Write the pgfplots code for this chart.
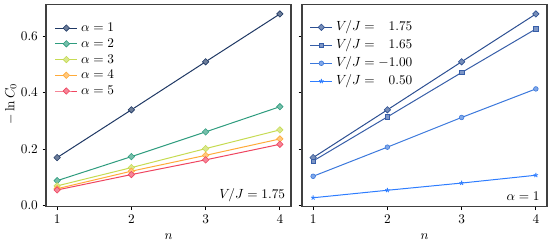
\documentclass[border=0pt]{standalone}
\usepackage{pgfplots}
\pgfplotsset{compat=1.18}
\definecolor{axgray}{HTML}{404040}
\definecolor{ca}{HTML}{1F3864}
\definecolor{cb}{HTML}{2E9C7E}
\definecolor{cc}{HTML}{C6DB52}
\definecolor{cd}{HTML}{FFAB3A}
\definecolor{ce}{HTML}{EF4560}
\definecolor{ra}{HTML}{2C4F92}
\definecolor{rb}{HTML}{375EA8}
\definecolor{rc}{HTML}{3B78DC}
\definecolor{rd}{HTML}{2E7DFF}
\begin{document}
\begin{tikzpicture}[x=0.75bp,y=0.75bp]
\useasboundingbox (0,0) rectangle (552,248);
\pgfplotsset{
 myax/.style={
  width=183.75bp, height=151.3bp, scale only axis,
  xmin=0.85, xmax=4.15, ymin=-0.0035, ymax=0.71,
  xtick={1,2,3,4}, ytick={0,0.2,0.4,0.6},
  tick align=outside, tick pos=left,
  major tick length=2.6bp,
  axis line style={line width=0.85bp, color=axgray},
  every tick/.style={line width=0.6bp, color=black},
  xlabel={$n$},
  xlabel style={at={(rel axis cs:0.5,-0.149)}, anchor=center, inner sep=0pt},
  legend cell align=left,
  legend image code/.code={\draw[mark repeat=2,mark phase=2] plot coordinates {(0bp,0bp) (8.25bp,0bp) (16.5bp,0bp)};},
  every axis plot/.append style={line width=0.75bp},
  yticklabel style={/pgf/number format/fixed, /pgf/number format/fixed zerofill, /pgf/number format/precision=1},
 },
 dia/.style={mark=square*, mark size=1.7bp, mark options={rotate=45, solid, fill=#1!65!white, draw=#1, line width=0.45bp}, color=#1},
}
\begin{axis}[myax, at={(34.5bp,31bp)}, anchor=south west,
  ylabel={$-\ln C_0$},
  ylabel style={at={(rel axis cs:-0.12,0.51)}, anchor=south, inner sep=0pt},
  legend style={draw=none, fill=none, at={(rel axis cs:0.035,0.918)}, anchor=north west, inner sep=0pt, row sep=2.3bp, nodes={inner ysep=0pt, inner xsep=2.5bp, text height=7.5bp, text depth=2bp}},
]
\addplot[dia=ca] coordinates {(1,0.170) (2,0.339) (3,0.509) (4,0.678)};
\addlegendentry{$\alpha=1$}
\addplot[dia=cb] coordinates {(1,0.0885) (2,0.1735) (3,0.261) (4,0.350)};
\addlegendentry{$\alpha=2$}
\addplot[dia=cc] coordinates {(1,0.070) (2,0.1346) (3,0.2018) (4,0.268)};
\addlegendentry{$\alpha=3$}
\addplot[dia=cd] coordinates {(1,0.060) (2,0.122) (3,0.178) (4,0.236)};
\addlegendentry{$\alpha=4$}
\addplot[dia=ce] coordinates {(1,0.0556) (2,0.110) (3,0.162) (4,0.217)};
\addlegendentry{$\alpha=5$}
\node[anchor=base east, inner sep=0pt] at (rel axis cs:0.977,0.038) {$V/J=1.75$};
\end{axis}
\begin{axis}[myax, at={(226.5bp,31bp)}, anchor=south west,
  yticklabels={},
  legend style={draw=none, fill=none, at={(rel axis cs:0.031,0.922)}, anchor=north west, inner sep=0pt, row sep=4bp, nodes={inner ysep=0pt, inner xsep=2.5bp, text height=7.5bp, text depth=2bp}},
]
\addplot[dia=ra] coordinates {(1,0.170) (2,0.339) (3,0.509) (4,0.678)};
\addlegendentry{$V/J=\phantom{-}1.75$}
\addplot[color=rb, mark=square*, mark size=1.65bp, mark options={solid, fill=rb!65!white, draw=rb, line width=0.45bp}] coordinates {(1,0.158) (2,0.314) (3,0.471) (4,0.625)};
\addlegendentry{$V/J=\phantom{-}1.65$}
\addplot[color=rc, mark=*, mark size=1.75bp, mark options={solid, fill=rc!65!white, draw=rc, line width=0.45bp}] coordinates {(1,0.104) (2,0.207) (3,0.312) (4,0.413)};
\addlegendentry{$V/J=-1.00$}
\addplot[color=rd, mark=star, mark size=1.75bp, mark options={solid, draw=rd, line width=0.6bp}] coordinates {(1,0.028) (2,0.0545) (3,0.080) (4,0.1076)};
\addlegendentry{$V/J=\phantom{-}0.50$}
\node[anchor=base east, inner sep=0pt] at (rel axis cs:0.971,0.033) {$\alpha=1$};
\end{axis}
\end{tikzpicture}
\end{document}
